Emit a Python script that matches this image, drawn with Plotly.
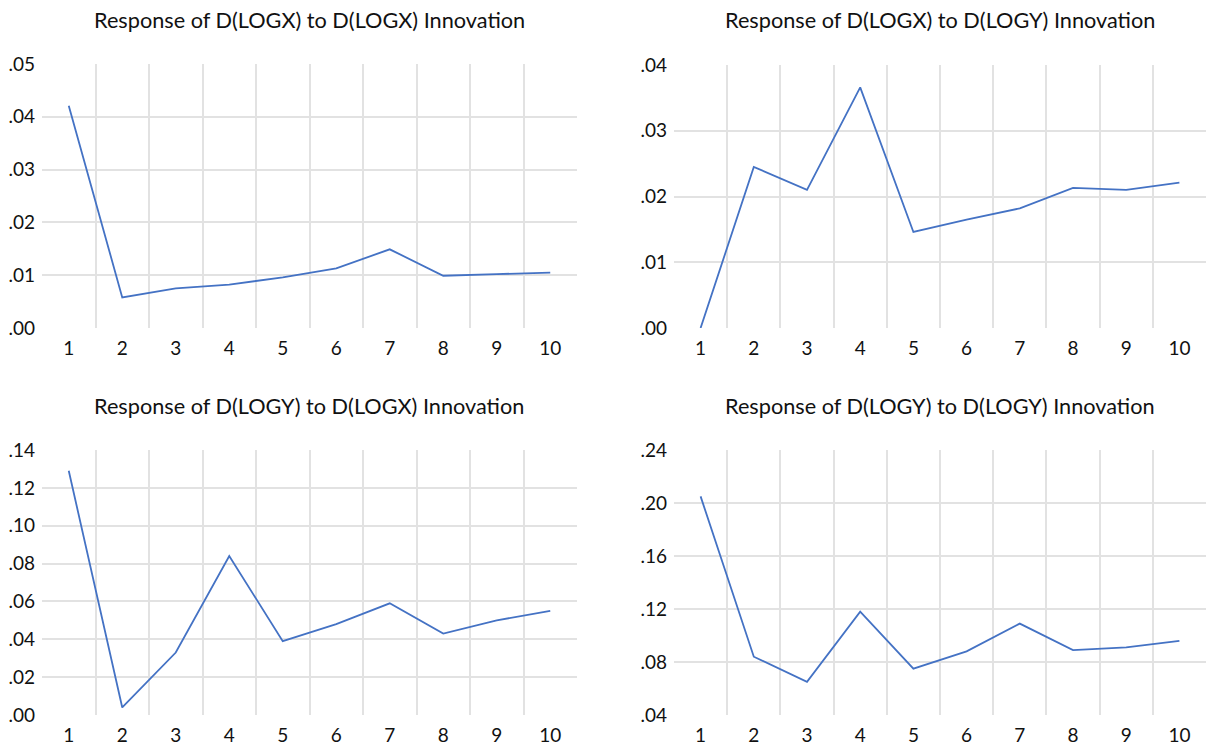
import plotly.graph_objects as go

periods = [1, 2, 3, 4, 5, 6, 7, 8, 9, 10]
period_labels = ["1", "2", "3", "4", "5", "6", "7", "8", "9", "10"]

titles = [
    "Response of D(LOGX) to D(LOGX) Innovation",
    "Response of D(LOGX) to D(LOGY) Innovation",
    "Response of D(LOGY) to D(LOGX) Innovation",
    "Response of D(LOGY) to D(LOGY) Innovation",
]

logx_to_logx = [0.0421, 0.0058, 0.0075, 0.0082, 0.0096, 0.0113, 0.0149, 0.0099, 0.0102, 0.0105]
logx_to_logy = [0.0000, 0.0245, 0.0210, 0.0366, 0.0146, 0.0165, 0.0182, 0.0213, 0.0210, 0.0221]
logy_to_logx = [0.129, 0.004, 0.033, 0.084, 0.039, 0.048, 0.059, 0.043, 0.050, 0.055]
logy_to_logy = [0.205, 0.084, 0.065, 0.118, 0.075, 0.088, 0.109, 0.089, 0.091, 0.096]

ticks_tl = [0.00, 0.01, 0.02, 0.03, 0.04, 0.05]
labels_tl = [".00", ".01", ".02", ".03", ".04", ".05"]
ticks_tr = [0.00, 0.01, 0.02, 0.03, 0.04]
labels_tr = [".00", ".01", ".02", ".03", ".04"]
ticks_bl = [0.00, 0.02, 0.04, 0.06, 0.08, 0.10, 0.12, 0.14]
labels_bl = [".00", ".02", ".04", ".06", ".08", ".10", ".12", ".14"]
ticks_br = [0.04, 0.08, 0.12, 0.16, 0.20, 0.24]
labels_br = [".04", ".08", ".12", ".16", ".20", ".24"]

W, H = 1206, 749
FONT = "Lato"
LINE = "#4472C4"
GRID = "#E2E2E2"
TXT = "#111111"


def px_x(p):
    return p / W


def px_y(p):
    return 1 - p / H


panels = [
    dict(series=logx_to_logx, ticks=ticks_tl, labels=labels_tl, x=(42, 577), y=(64, 328), title_y=20),
    dict(series=logx_to_logy, ticks=ticks_tr, labels=labels_tr, x=(674, 1206), y=(65, 328), title_y=20),
    dict(series=logy_to_logx, ticks=ticks_bl, labels=labels_bl, x=(42, 577), y=(450, 715), title_y=406),
    dict(series=logy_to_logy, ticks=ticks_br, labels=labels_br, x=(674, 1206), y=(450, 715), title_y=406),
]

fig = go.Figure()
annotations = []
for i, p in enumerate(panels):
    n = "" if i == 0 else str(i + 1)
    fig.add_trace(go.Scatter(
        x=periods, y=p["series"], mode="lines",
        line=dict(color=LINE, width=1.8),
        xaxis="x" + n, yaxis="y" + n, showlegend=False,
        hoverinfo="x+y",
    ))
    fig.layout["xaxis" + n] = dict(
        domain=[px_x(p["x"][0]), px_x(p["x"][1])],
        anchor="y" + n,
        range=[0.5, 10.5],
        automargin=False,
        tickmode="array", tickvals=periods, ticktext=period_labels,
        showgrid=False, zeroline=False, showline=False, ticks="",
        ticklabelstandoff=7,
        tickfont=dict(family=FONT, size=19, color=TXT),
        minor=dict(tickmode="array", tickvals=[k + 0.5 for k in periods[:-1]],
                   showgrid=True, gridcolor=GRID, gridwidth=1.6, ticks=""),
        fixedrange=True,
    )
    inner = p["ticks"][1:-1]
    fig.layout["yaxis" + n] = dict(
        domain=[px_y(p["y"][1]), px_y(p["y"][0])],
        anchor="x" + n,
        range=[p["ticks"][0], p["ticks"][-1]],
        automargin=False,
        tickmode="array", tickvals=p["ticks"], ticktext=p["labels"],
        showgrid=False, zeroline=False, showline=False, ticks="",
        ticklabelstandoff=6,
        tickfont=dict(family=FONT, size=19, color=TXT),
        minor=dict(tickmode="array", tickvals=inner,
                   showgrid=True, gridcolor=GRID, gridwidth=1.6, ticks=""),
        fixedrange=True,
    )
    annotations.append(dict(
        text=titles[i], xref="paper", yref="paper",
        x=(px_x(p["x"][0]) + px_x(p["x"][1])) / 2, y=px_y(p["title_y"]),
        xanchor="center", yanchor="middle", showarrow=False,
        font=dict(family=FONT, size=21.7, color=TXT),
    ))

fig.update_layout(
    width=W, height=H,
    margin=dict(l=0, r=0, t=0, b=0, pad=0, autoexpand=False),
    paper_bgcolor="white", plot_bgcolor="white",
    annotations=annotations,
    showlegend=False,
)

fig.write_html(
    "out.html",
    config={"responsive": False, "displayModeBar": False},
    post_script="document.body.style.margin='0';document.body.style.overflow='hidden';",
)
